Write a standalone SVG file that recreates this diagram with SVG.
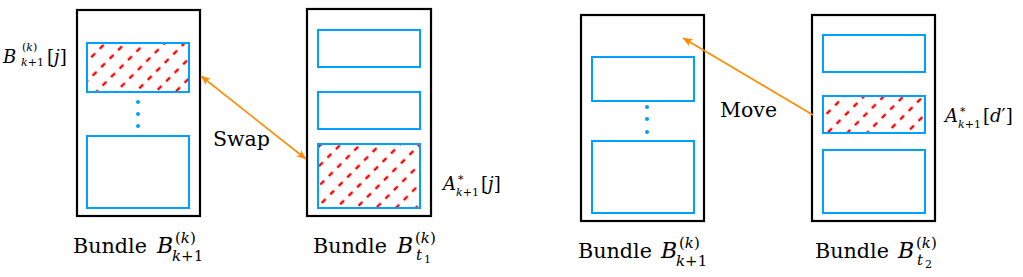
<svg xmlns="http://www.w3.org/2000/svg" width="1023" height="277" viewBox="0 0 1023 277">
  <style>
    .bundle { fill: #ffffff; stroke: #000000; stroke-width: 2.2; }
    .item { fill: #ffffff; stroke: #00a0ff; stroke-width: 2; }
    .hatched { fill: url(#hatch); stroke: #00a0ff; stroke-width: 2; }
    .dot { fill: #00a0ff; }
    .conn { fill: none; stroke: #ff8c00; stroke-width: 1.6; }
    text { font-family: 'DejaVu Serif', serif; fill: #000000; }
    .big { font-size: 21px; }
    .bb { font-size: 22px; }
    .op { font-size: 20.5px; }
    .lbl { font-size: 18px; }
    .sml { font-size: 11px; }
    .mid { font-size: 15px; }
    .tiny { font-size: 11px; }
    .it { font-style: italic; }
  </style>
  <defs>
    <pattern id="hatch" patternUnits="userSpaceOnUse" width="12" height="14" patternTransform="rotate(-45)">
      <line x1="0" y1="7" x2="5.5" y2="7" stroke="#ff0000" stroke-width="2.4"/>
    </pattern>
    <marker id="arrow" viewBox="0 0 10 8" refX="9.5" refY="4" markerWidth="10" markerHeight="8" markerUnits="userSpaceOnUse" orient="auto-start-reverse">
      <path d="M0,0 L10,4 L0,8 L2.5,4 z" fill="#ff8c00"/>
    </marker>
  </defs>

  <g id="bundle1">
    <rect class="bundle" x="77" y="10" width="123" height="206"/>
    <rect class="hatched" x="87" y="43" width="102" height="49"/>
    <circle class="dot" cx="138" cy="102" r="2"/>
    <circle class="dot" cx="138" cy="114" r="2"/>
    <circle class="dot" cx="138" cy="126" r="2"/>
    <rect class="item" x="87" y="136" width="102" height="72"/>
    <text class="big" x="73" y="253" textLength="74" lengthAdjust="spacingAndGlyphs">Bundle</text>
    <text class="bb it" x="157" y="253">B</text>
    <text class="mid" x="175" y="243">(<tspan class="it">k</tspan>)</text>
    <text class="mid" x="172" y="261"><tspan class="it">k</tspan>+1</text>
  </g>

  <g id="label-b">
    <text class="lbl it" x="3" y="63">B</text>
    <text class="sml" x="22" y="51">(<tspan class="it">k</tspan>)</text>
    <text class="sml" x="21" y="66"><tspan class="it">k</tspan>+1</text>
    <text class="lbl" x="47" y="63">[<tspan class="it">j</tspan>]</text>
  </g>

  <g id="bundle2">
    <rect class="bundle" x="307" y="9" width="124" height="207"/>
    <rect class="item" x="318" y="30" width="102" height="37"/>
    <rect class="item" x="318" y="92" width="102" height="37"/>
    <rect class="hatched" x="318" y="144" width="102" height="64"/>
    <text class="big" x="313" y="253" textLength="74" lengthAdjust="spacingAndGlyphs">Bundle</text>
    <text class="bb it" x="397" y="253">B</text>
    <text class="mid" x="415" y="243">(<tspan class="it">k</tspan>)</text>
    <text class="mid it" x="416" y="260">t</text>
    <text class="tiny" x="424" y="263">1</text>
  </g>

  <g id="label-a1">
    <text class="lbl it" x="443" y="190">A</text>
    <text class="sml" x="458" y="183">*</text>
    <text class="sml" x="456" y="196"><tspan class="it">k</tspan>+1</text>
    <text class="lbl" x="481" y="190">[<tspan class="it">j</tspan>]</text>
  </g>

  <g id="bundle3">
    <rect class="bundle" x="581" y="15" width="123" height="206"/>
    <rect class="item" x="592" y="57" width="102" height="44"/>
    <circle class="dot" cx="647" cy="107" r="2"/>
    <circle class="dot" cx="647" cy="119" r="2"/>
    <circle class="dot" cx="647" cy="132" r="2"/>
    <rect class="item" x="592" y="141" width="102" height="72"/>
    <text class="big" x="578" y="258" textLength="74" lengthAdjust="spacingAndGlyphs">Bundle</text>
    <text class="bb it" x="661" y="258">B</text>
    <text class="mid" x="679" y="248">(<tspan class="it">k</tspan>)</text>
    <text class="mid" x="676" y="266"><tspan class="it">k</tspan>+1</text>
  </g>

  <g id="bundle4">
    <rect class="bundle" x="812" y="15" width="123" height="206"/>
    <rect class="item" x="823" y="35" width="102" height="37"/>
    <rect class="hatched" x="823" y="96" width="102" height="37"/>
    <rect class="item" x="823" y="150" width="102" height="63"/>
    <text class="big" x="815" y="258" textLength="74" lengthAdjust="spacingAndGlyphs">Bundle</text>
    <text class="bb it" x="898" y="258">B</text>
    <text class="mid" x="916" y="248">(<tspan class="it">k</tspan>)</text>
    <text class="mid it" x="917" y="265">t</text>
    <text class="tiny" x="925" y="268">2</text>
  </g>

  <g id="label-a2">
    <text class="lbl it" x="945" y="122">A</text>
    <text class="sml" x="960" y="115">*</text>
    <text class="sml" x="958" y="128"><tspan class="it">k</tspan>+1</text>
    <text class="lbl" x="983" y="122">[<tspan class="it">d</tspan>′]</text>
  </g>

  <g id="connectors">
    <line class="conn" x1="201" y1="76" x2="306" y2="159" marker-start="url(#arrow)" marker-end="url(#arrow)"/>
    <text class="op" x="213" y="146">Swap</text>
    <line class="conn" x1="813" y1="115" x2="683" y2="38" marker-end="url(#arrow)"/>
    <text class="op" x="720" y="117">Move</text>
  </g>
</svg>
